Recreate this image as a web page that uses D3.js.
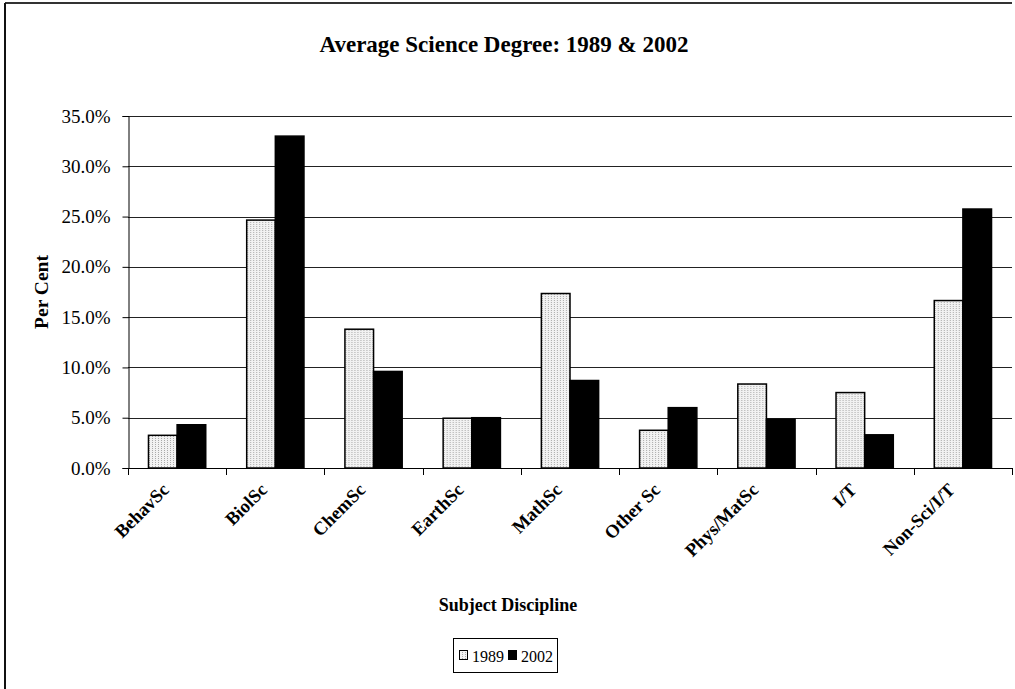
<!DOCTYPE html>
<html>
<head>
<meta charset="utf-8">
<script src="https://cdn.jsdelivr.net/npm/d3@7"></script>
<style>
  html, body { margin: 0; padding: 0; background: #fff; }
  svg { display: block; }
  text { font-family: "Liberation Serif", "Times New Roman", serif; fill: #000; }
</style>
</head>
<body>
<svg id="chart" width="1015" height="689"></svg>
<script>
const categories = ["BehavSc", "BiolSc", "ChemSc", "EarthSc", "MathSc", "Other Sc", "Phys/MatSc", "I/T", "Non-Sci/I/T"];
const seriesNames = ["1989", "2002"];
const values1989 = [3.25, 24.65, 13.8, 4.95, 17.35, 3.75, 8.35, 7.5, 16.65];
const values2002 = [4.3, 33.0, 9.6, 5.0, 8.7, 6.0, 4.85, 3.3, 25.75];
const yTicks = [0, 5, 10, 15, 20, 25, 30, 35];
const titleText = "Average Science Degree: 1989 & 2002";
const yTitle = "Per Cent";
const xTitle = "Subject Discipline";

const svg = d3.select("#chart");
const W = 1015, H = 689;
const plot = { left: 128, right: 1012, top: 116, bottom: 468 };

// outer frame (top & left visible)
svg.append("line").attr("x1", 5).attr("x2", 1012).attr("y1", 3).attr("y2", 3)
  .attr("stroke", "#333").attr("stroke-width", 2);
svg.append("line").attr("x1", 5).attr("x2", 5).attr("y1", 3).attr("y2", H)
  .attr("stroke", "#111").attr("stroke-width", 2);

// pattern for 1989
const defs = svg.append("defs");
const pat = defs.append("pattern").attr("id", "dots").attr("patternUnits", "userSpaceOnUse")
  .attr("width", 3).attr("height", 2);
pat.append("rect").attr("width", 3).attr("height", 2).attr("fill", "#f2f2f2");
pat.append("rect").attr("x", 0).attr("y", 0).attr("width", 1).attr("height", 1).attr("fill", "#aaaaaa");

const x0 = d3.scaleBand().domain(categories).range([plot.left, plot.right]).paddingInner(0).paddingOuter(0);
const bw = x0.bandwidth();
const x1 = d3.scaleBand().domain(seriesNames).range([0, bw]).paddingInner(0).paddingOuter(0.715);
const y = d3.scaleLinear().domain([0, 35]).range([plot.bottom, plot.top]);

// gridlines
svg.append("g").selectAll("line").data(yTicks.filter(d => d > 0)).join("line")
  .attr("x1", plot.left).attr("x2", plot.right)
  .attr("y1", d => Math.round(y(d)) + 0.5).attr("y2", d => Math.round(y(d)) + 0.5)
  .attr("stroke", "#222").attr("stroke-width", 1);

// bars
const data = categories.map((c, i) => ({ c, vals: [
  { s: "1989", v: values1989[i] }, { s: "2002", v: values2002[i] }] }));
const g = svg.append("g").selectAll("g").data(data).join("g")
  .attr("transform", d => `translate(${x0(d.c)},0)`);
g.selectAll("rect").data(d => d.vals).join("rect")
  .attr("x", d => x1(d.s))
  .attr("y", d => y(d.v))
  .attr("width", x1.bandwidth())
  .attr("height", d => y(0) - y(d.v))
  .attr("fill", d => d.s === "1989" ? "url(#dots)" : "#000")
  .attr("stroke", "#000").attr("stroke-width", 1.5);

// y axis
const yAxis = d3.axisLeft(y).tickValues(yTicks).tickSize(6).tickPadding(12)
  .tickFormat(d => d.toFixed(1) + "%");
const ya = svg.append("g").attr("transform", `translate(${plot.left + 0.5},0)`).call(yAxis);
ya.select(".domain").attr("stroke", "#000");
ya.selectAll(".tick line").attr("stroke", "#000");
ya.selectAll(".tick text").style("font-size", "19px").style("font-family", "'Liberation Serif', serif").attr("fill", "#000");

// x axis (ticks at category boundaries)
const bounds = categories.map(c => x0(c)).concat([plot.right]);
svg.append("line").attr("x1", plot.left).attr("x2", plot.right)
  .attr("y1", plot.bottom + 0.5).attr("y2", plot.bottom + 0.5).attr("stroke", "#000");
svg.append("g").selectAll("line").data(bounds).join("line")
  .attr("x1", d => Math.round(d) + 0.5).attr("x2", d => Math.round(d) + 0.5)
  .attr("y1", plot.bottom).attr("y2", plot.bottom + 7).attr("stroke", "#000");

// x labels
svg.append("g").selectAll("text").data(categories).join("text")
  .attr("transform", d => `translate(${x0(d) + bw / 2 - 7},${plot.bottom + 23}) rotate(-45)`)
  .attr("text-anchor", "end")
  .style("font-size", "18.5px").style("font-weight", "bold")
  .text(d => d);

// title
svg.append("text").attr("x", 504).attr("y", 52).attr("text-anchor", "middle")
  .style("font-size", "23px").style("font-weight", "bold").text(titleText);

// y title
svg.append("text").attr("transform", `translate(48,${(plot.top + plot.bottom) / 2}) rotate(-90)`)
  .attr("text-anchor", "middle").style("font-size", "19.5px").style("font-weight", "bold").text(yTitle);

// x title
svg.append("text").attr("x", 508).attr("y", 611).attr("text-anchor", "middle")
  .style("font-size", "18px").style("font-weight", "bold").text(xTitle);

// legend
const lg = svg.append("g").attr("transform", "translate(453,638)");
lg.append("rect").attr("x", 0.5).attr("y", 0.5).attr("width", 104).attr("height", 34)
  .attr("fill", "#fff").attr("stroke", "#000").attr("stroke-width", 1);
const items = [
  { s: "1989", fill: "url(#dots)", x: 6 },
  { s: "2002", fill: "#000", x: 55 }
];
items.forEach(it => {
  lg.append("rect").attr("x", it.x + 0.5).attr("y", 12.5).attr("width", 8).attr("height", 9)
    .attr("fill", it.fill).attr("stroke", "#000").attr("stroke-width", 1);
  lg.append("text").attr("x", it.x + 13).attr("y", 23.5).style("font-size", "16px").text(it.s);
});
</script>
</body>
</html>
